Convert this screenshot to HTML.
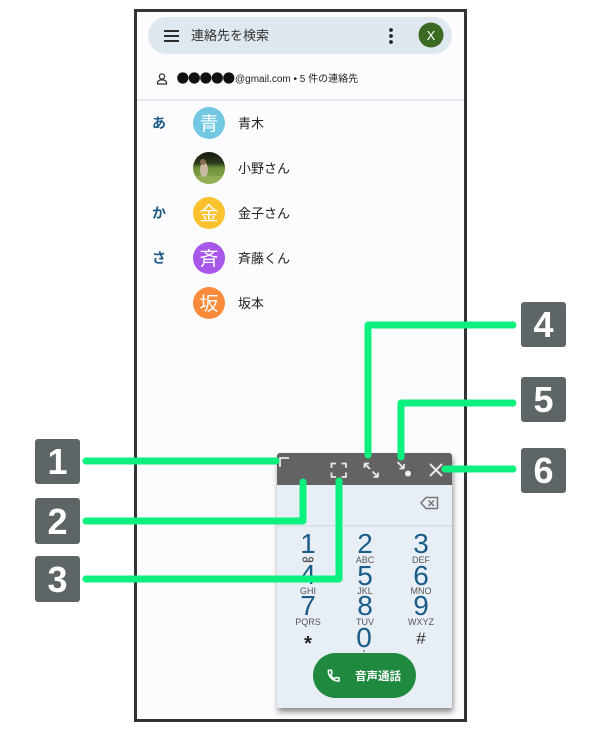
<!DOCTYPE html>
<html><head><meta charset="utf-8">
<style>
html,body{margin:0;padding:0;background:#fff;}
svg{display:block;}
text{font-family:"Liberation Sans","Noto Sans CJK JP",sans-serif;}
</style></head>
<body>
<svg width="600" height="731" viewBox="0 0 600 731" xmlns="http://www.w3.org/2000/svg">
<defs>
  <clipPath id="ph"><circle cx="209" cy="168" r="16"/></clipPath>
  <linearGradient id="grass" x1="0" y1="0" x2="0" y2="1">
    <stop offset="0" stop-color="#151812"/>
    <stop offset="0.35" stop-color="#2c3a1c"/>
    <stop offset="0.5" stop-color="#6f8f3a"/>
    <stop offset="1" stop-color="#8fae4e"/>
  </linearGradient>
  <filter id="sh" x="-10%" y="-10%" width="130%" height="130%">
    <feGaussianBlur in="SourceAlpha" stdDeviation="3"/>
    <feOffset dx="1" dy="4" result="b"/>
    <feComponentTransfer><feFuncA type="linear" slope="0.45"/></feComponentTransfer>
    <feMerge><feMergeNode/><feMergeNode in="SourceGraphic"/></feMerge>
  </filter>
</defs>

<!-- phone frame -->
<rect x="135.5" y="10.5" width="330" height="710" fill="#fcfcfe" stroke="#333" stroke-width="3"/>

<!-- search bar -->
<rect x="148" y="17" width="304" height="37" rx="18.5" fill="#dfe8ef"/>
<g stroke="#2b2b2b" stroke-width="2">
  <line x1="164" y1="31" x2="179" y2="31"/>
  <line x1="164" y1="36" x2="179" y2="36"/>
  <line x1="164" y1="41" x2="179" y2="41"/>
</g>
<text x="191" y="40" font-size="13" fill="#333">連絡先を検索</text>
<g fill="#222"><circle cx="391" cy="30" r="1.9"/><circle cx="391" cy="36" r="1.9"/><circle cx="391" cy="42" r="1.9"/></g>
<circle cx="431" cy="35" r="12.5" fill="#3b6a22"/>
<text x="431" y="40" font-size="13" fill="#fff" text-anchor="middle">X</text>

<!-- account line -->
<g fill="none" stroke="#333" stroke-width="1.3">
  <circle cx="162" cy="76.5" r="2.6"/>
  <path d="M157.5 84 v-1.2 c0-2 2-3 4.5-3 s4.5 1 4.5 3 V84 Z"/>
</g>
<g fill="#111">
  <circle cx="182.8" cy="78" r="5.6"/><circle cx="194.3" cy="78" r="5.6"/><circle cx="205.8" cy="78" r="5.6"/><circle cx="217.3" cy="78" r="5.6"/><circle cx="228.8" cy="78" r="5.6"/>
</g>
<text x="235" y="82" font-size="10" fill="#222">@gmail.com • 5 件の連絡先</text>
<rect x="137" y="99" width="327" height="2" fill="#e6eaee"/>

<!-- contacts -->
<g font-size="14" fill="#1d5a86" font-weight="bold">
  <text x="152" y="128">あ</text>
  <text x="152" y="218">か</text>
  <text x="152" y="263">さ</text>
</g>
<circle cx="209" cy="123" r="16" fill="#72c8e2"/>
<text x="209" y="130" font-size="19" fill="#fff" text-anchor="middle">青</text>
<g clip-path="url(#ph)">
  <rect x="193" y="152" width="32" height="32" fill="url(#grass)"/>
  <ellipse cx="204" cy="170" rx="4" ry="8" fill="#c9b9a2"/>
  <ellipse cx="203" cy="162" rx="3" ry="3" fill="#8a6d50"/>
  <rect x="193" y="176" width="32" height="8" fill="#98b25a" opacity="0.7"/>
</g>
<circle cx="209" cy="213" r="16" fill="#fcc22e"/>
<text x="209" y="220" font-size="19" fill="#fff" text-anchor="middle">金</text>
<circle cx="209" cy="258" r="16" fill="#a757ea"/>
<text x="209" y="265" font-size="19" fill="#fff" text-anchor="middle">斉</text>
<circle cx="209" cy="303" r="16" fill="#fb8b3a"/>
<text x="209" y="310" font-size="19" fill="#fff" text-anchor="middle">坂</text>
<g font-size="13" fill="#222">
  <text x="238" y="128">青木</text>
  <text x="238" y="173">小野さん</text>
  <text x="238" y="218">金子さん</text>
  <text x="238" y="263">斉藤くん</text>
  <text x="238" y="308">坂本</text>
</g>

<!-- dialer panel -->
<g filter="url(#sh)">
  <path d="M277 456 a3 3 0 0 1 3 -3 H449 a3 3 0 0 1 3 3 V708 H277 Z" fill="#e7eef5"/>
</g>
<path d="M277 456 a3 3 0 0 1 3 -3 H449 a3 3 0 0 1 3 3 V485 H277 Z" fill="#636363"/>
<rect x="277" y="525" width="175" height="1.5" fill="#d6dee6"/>
<!-- header icons -->
<g fill="none" stroke="#e8e8e8" stroke-width="1.8">
  <path d="M280 467 V458 H289"/>
  <path d="M331.5 468 V463.5 H336 M341.5 463.5 H346 V468 M346 472.5 V477 H341.5 M336 477 H331.5 V472.5"/>
  <path d="M364.5 463.5 L370 469 M364.5 463.5 h4.5 M364.5 463.5 v4.5"/>
  <path d="M378 477 L372.5 471.5 M378 477 h-4.5 M378 477 v-4.5"/>
  <path d="M397.5 462 L404 468.5 M404 468.5 h-4.5 M404 468.5 v-4.5"/>
  <path d="M430 464 L442 476 M442 464 L430 476" stroke-width="2"/>
</g>
<circle cx="408" cy="473.5" r="3" fill="#f0f0f0"/>
<!-- backspace -->
<g fill="none" stroke="#777" stroke-width="1.5">
  <path d="M426 497.5 H437.5 V508.5 H426 L421 503 Z"/>
  <path d="M428.5 500.5 L434 506 M434 500.5 L428.5 506"/>
</g>

<!-- keypad -->
<g font-size="28" fill="#1b5d88" text-anchor="middle">
  <text x="308" y="553">1</text><text x="365" y="553">2</text><text x="421" y="553">3</text>
  <text x="308" y="584">4</text><text x="365" y="585">5</text><text x="421" y="585">6</text>
  <text x="308" y="615">7</text><text x="365" y="615">8</text><text x="421" y="615">9</text>
  <text x="364" y="647">0</text>
</g>
<g fill="none" stroke="#555" stroke-width="1.2">
  <circle cx="305" cy="559.5" r="2"/><circle cx="311" cy="559.5" r="2"/><line x1="305" y1="561.5" x2="311" y2="561.5"/>
</g>
<g font-size="9" fill="#555" text-anchor="middle">
  <text x="365" y="563">ABC</text><text x="421" y="563">DEF</text>
  <text x="308" y="594">GHI</text><text x="365" y="594">JKL</text><text x="421" y="594">MNO</text>
  <text x="308" y="625">PQRS</text><text x="365" y="625">TUV</text><text x="421" y="625">WXYZ</text>
</g>
<text x="308" y="650" font-size="20" font-weight="bold" fill="#222" text-anchor="middle">*</text>
<text x="421" y="644" font-size="17" fill="#333" text-anchor="middle">#</text>
<circle cx="364" cy="651" r="1.2" fill="#999"/>

<!-- call button -->
<rect x="313" y="653" width="103" height="45" rx="22.5" fill="#1f8a3f"/>
<g transform="translate(326.5,668.5) scale(0.6)">
  <path d="M6.62 10.79c1.44 2.83 3.76 5.14 6.59 6.59l2.2-2.2c.27-.27.67-.36 1.02-.24 1.12.37 2.33.57 3.57.57.55 0 1 .45 1 1V20c0 .55-.45 1-1 1-9.39 0-17-7.61-17-17 0-.55.45-1 1-1h3.5c.55 0 1 .45 1 1 0 1.25.2 2.45.57 3.57.11.35.03.74-.25 1.02l-2.2 2.2z" fill="none" stroke="#fff" stroke-width="2.6"/>
</g>
<text x="355" y="680" font-size="11.5" font-weight="bold" fill="#fff">音声通話</text>

<!-- callout lines -->
<g fill="none" stroke="#0af27d" stroke-width="7" stroke-linecap="round" stroke-linejoin="round">
  <polyline points="86,461 276,461"/>
  <polyline points="86,521 303,521 303,482"/>
  <polyline points="86,579 339,579 339,481"/>
  <polyline points="513,325 368,325 368,455"/>
  <polyline points="513,403 401,403 401,457"/>
  <polyline points="513,469 445,469"/>
</g>

<!-- number labels -->
<g fill="#5e6567">
  <rect x="35" y="439" width="45" height="45" rx="3"/>
  <rect x="35" y="498" width="45" height="46" rx="3"/>
  <rect x="35" y="556" width="45" height="46" rx="3"/>
  <rect x="521" y="302" width="45" height="45" rx="3"/>
  <rect x="521" y="377" width="45" height="45" rx="3"/>
  <rect x="521" y="448" width="45" height="45" rx="3"/>
</g>
<g font-size="36" font-weight="bold" fill="#fff" text-anchor="middle">
  <text x="57.5" y="474">1</text>
  <text x="57.5" y="534">2</text>
  <text x="57.5" y="592">3</text>
  <text x="543.5" y="337">4</text>
  <text x="543.5" y="412">5</text>
  <text x="543.5" y="483">6</text>
</g>
</svg>
</body></html>
